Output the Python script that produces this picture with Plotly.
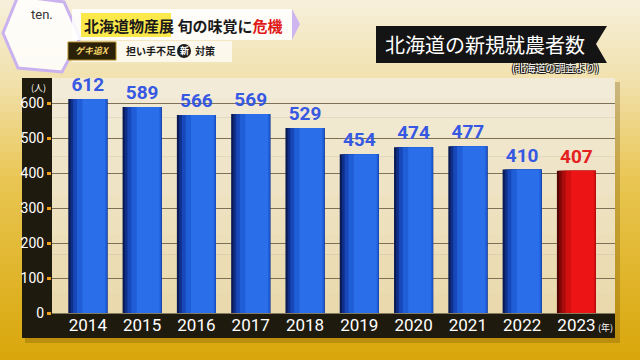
import plotly.graph_objects as go

years = ["2014", "2015", "2016", "2017", "2018", "2019", "2020", "2021", "2022", "2023"]
farmers = [612, 589, 566, 569, 529, 454, 474, 477, 410, 407]
value_label_colors = ["#3658e2"] * 9 + ["#e42020"]
y_ticks = [0, 100, 200, 300, 400, 500, 600]

W, H = 640, 360
L, R, T, B = 52, 615, 78, 313


def px(x):
    return (x - L) / (R - L)


def py(y):
    return (B - y) / (B - T)


def mix(c1, c2, t):
    a = [int(c1[i:i + 2], 16) for i in (1, 3, 5)]
    b = [int(c2[i:i + 2], 16) for i in (1, 3, 5)]
    return "#%02x%02x%02x" % tuple(round(a[k] + (b[k] - a[k]) * t) for k in range(3))


shapes = []
# background gradient
stops = [(0, "#f7f0dc"), (80, "#f1e1ad"), (180, "#e9c653"), (360, "#d9a60a")]
n = 45
for i in range(n):
    y0 = H * i / n
    y1 = H * (i + 1) / n + 0.5
    ym = (y0 + y1) / 2
    for j in range(len(stops) - 1):
        if stops[j][0] <= ym <= stops[j + 1][0]:
            t = (ym - stops[j][0]) / (stops[j + 1][0] - stops[j][0])
            c = mix(stops[j][1], stops[j + 1][1], t)
            break
    shapes.append(dict(type="rect", xref="paper", yref="paper", x0=px(0), x1=px(W),
                       y0=py(y1), y1=py(y0), fillcolor=c, line_width=0, layer="below"))
# drop shadow of panel
shapes.append(dict(type="rect", xref="paper", yref="paper", x0=px(25), x1=px(620),
                   y0=py(343), y1=py(82), fillcolor="rgba(90,60,0,0.25)", line_width=0, layer="below"))
# dark panel
shapes.append(dict(type="rect", xref="paper", yref="paper", x0=px(22), x1=px(615),
                   y0=py(338), y1=py(78), fillcolor="#1f1a0e", line_width=0, layer="below"))
# plot background gradient (cream at top to beige)
m = 12
for i in range(m):
    y0 = T + (B - T) * i / m
    y1 = T + (B - T) * (i + 1) / m + 0.5
    c = mix("#f2ebd8", "#ead9ac", i / (m - 1))
    shapes.append(dict(type="rect", xref="paper", yref="paper", x0=0, x1=1,
                       y0=py(y1), y1=py(y0), fillcolor=c, line_width=0, layer="below"))

# logo hexagon
shapes.append(dict(type="path", xref="paper", yref="paper",
                   path="M %f,%f L %f,%f L %f,%f L %f,%f L %f,%f L %f,%f Z" % (
                       px(18), py(-4), px(64), py(2), px(80), py(38), px(62), py(72),
                       px(18), py(68), px(3), py(33)),
                   fillcolor="rgba(255,255,255,0.85)", line=dict(color="#c9b2ee", width=3)))
# headline bands
shapes.append(dict(type="rect", xref="paper", yref="paper", x0=px(72), x1=px(292),
                   y0=py(40), y1=py(9), fillcolor="rgba(255,255,255,0.85)", line_width=0))
shapes.append(dict(type="path", xref="paper", yref="paper",
                   path="M %f,%f L %f,%f L %f,%f Z" % (px(292), py(9), px(300), py(24), px(292), py(40)),
                   fillcolor="#cdb6f0", line_width=0))
shapes.append(dict(type="rect", xref="paper", yref="paper", x0=px(72), x1=px(232),
                   y0=py(62), y1=py(41), fillcolor="rgba(255,255,255,0.7)", line_width=0))
shapes.append(dict(type="rect", xref="paper", yref="paper", x0=px(81), x1=px(171),
                   y0=py(37), y1=py(13), fillcolor="#fbe84a", line_width=0))
shapes.append(dict(type="rect", xref="paper", yref="paper", x0=px(68), x1=px(116),
                   y0=py(60), y1=py(42), fillcolor="#2b2008", line=dict(color="#b08a20", width=1)))
shapes.append(dict(type="circle", xref="paper", yref="paper", x0=px(177), x1=px(191),
                   y0=py(58), y1=py(44), fillcolor="#1c1c1c", line_width=0))
# title ribbon
shapes.append(dict(type="path", xref="paper", yref="paper",
                   path="M %f,%f L %f,%f L %f,%f L %f,%f L %f,%f Z" % (
                       px(376), py(26), px(607), py(26), px(596), py(44), px(607), py(63),
                       px(376), py(63)),
                   fillcolor="#141414", line_width=0))

fig = go.Figure()

# layered bars to emulate cylindrical shading
layers = [
    (-0.36, 0.72, "#0a1a55", "#550404"),
    (-0.32, 0.68, "#102f88", "#800707"),
    (-0.27, 0.63, "#1747b8", "#aa0b0b"),
    (-0.20, 0.55, "#1f5ed6", "#d21010"),
    (-0.10, 0.42, "#2a6eea", "#ec1414"),
]
for k, (off, wd, cb, cr) in enumerate(layers):
    colors = [cb] * 9 + [cr]
    kw = {}
    if k == 0:
        kw = dict(text=[str(v) for v in farmers], textposition="outside",
                  textfont=dict(color=value_label_colors, size=19, family="Roboto", weight="bold"),
                  cliponaxis=False)
    fig.add_trace(go.Bar(x=list(range(len(years))), y=farmers, offset=off, width=wd,
                         marker=dict(color=colors, line_width=0), hoverinfo="skip", **kw))


def ann(text, x, y, size, color, family="Noto Sans CJK JP", weight="normal", xanchor="center",
        shadow="none"):
    return dict(text=text, x=px(x), y=py(y), xref="paper", yref="paper", xanchor=xanchor,
                yanchor="middle", showarrow=False,
                font=dict(size=size, color=color, family=family, weight=weight, shadow=shadow))


outline = "-1px -1px 0 #111, 1px -1px 0 #111, -1px 1px 0 #111, 1px 1px 0 #111"
annotations = [
    ann("(人)", 38, 88, 9, "white"),
    ann("(年)", 605, 327, 9, "white"),
    ann("ten.", 42, 14, 13, "#333", family="Roboto"),
    ann("北海道物産展 旬の味覚に<span style='color:#e01818'>危機</span>", 82, 25, 15, "#1a1a1a",
        weight="bold", xanchor="left"),
    ann("<i>ゲキ追X</i>", 92, 51, 9, "#f3d46a", weight="bold"),
    ann("担い手不足", 124, 51, 10, "#1a1a1a", weight="bold", xanchor="left"),
    ann("新", 184, 50.5, 9, "white", weight="bold"),
    ann("対策", 193, 51, 10, "#1a1a1a", weight="bold", xanchor="left"),
    ann("北海道の新規就農者数", 485, 45, 20, "white"),
    ann("(北海道の調査より)", 555, 67, 10, "white", shadow=outline),
]

fig.update_layout(
    width=W, height=H,
    margin=dict(l=L, r=W - R, t=T, b=H - B),
    paper_bgcolor="#e9c653",
    plot_bgcolor="rgba(0,0,0,0)",
    barmode="overlay",
    showlegend=False,
    shapes=shapes,
    annotations=annotations,
    xaxis=dict(range=[-0.66, 9.71], tickmode="array", tickvals=list(range(len(years))),
               ticktext=years, showgrid=False, zeroline=False, showline=False,
               tickfont=dict(size=17, color="white", family="Roboto"), ticks="",
               automargin=False),
    yaxis=dict(range=[0, 672], tickmode="array", tickvals=y_ticks,
               ticktext=[str(v) for v in y_ticks],
               showgrid=True, gridcolor="#7d7258", gridwidth=1, zeroline=False, showline=False,
               tickfont=dict(size=14, color="white", family="Roboto"),
               ticks="outside", ticklen=4, tickwidth=3, tickcolor="#f0a020",
               automargin=False),
)

fig.write_html("out.html", config={"displayModeBar": False},
               post_script="document.body.style.margin='0';")
